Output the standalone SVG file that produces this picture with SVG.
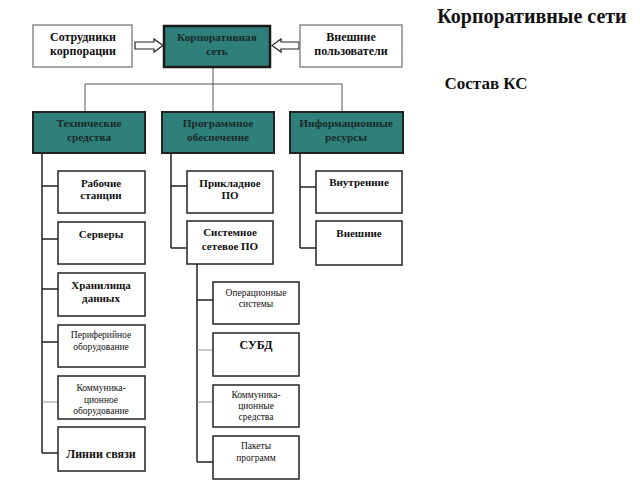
<svg xmlns="http://www.w3.org/2000/svg" width="640" height="480" viewBox="0 0 640 480">
<style>
text{font-family:"Liberation Serif","Times New Roman",serif;fill:#111;text-anchor:middle}
.b{font-family:"Liberation Serif","Times New Roman",serif;font-weight:bold;font-size:11px}
.bt{font-family:"Liberation Serif","Times New Roman",serif;font-weight:bold;font-size:12px}
.r{font-family:"Liberation Serif","Times New Roman",serif;font-size:9.5px}
.t{font-family:"Liberation Serif","Times New Roman",serif;font-weight:bold;font-size:11.3px;fill:#1a2a2a}
.wb{fill:#fff;stroke:#8a8a8a;stroke-width:1.5}
.teal{fill:#2f7f7b;stroke:#1a1a1a;stroke-width:2.5}
.tl{fill:#2f7f7b;stroke:#222;stroke-width:2}
.nb{fill:#fff;stroke:#222;stroke-width:1.5}
.c{fill:none;stroke:#222;stroke-width:1.5}
.cg{fill:none;stroke:#999;stroke-width:1}
.ar{fill:#fff;stroke:#222;stroke-width:1.2}
</style>
<rect width="640" height="480" fill="#fff"/>
<g id="connectors">
<path class="c" d="M213 67V84M85 84H342M85 84V112M213 84V112M342 84V112" style="stroke:#555;stroke-width:1"/>
<path class="c" d="M42 153V453M42 186H58M42 239H58M42 289H58M42 342H58M42 453H58"/>
<path class="cg" d="M42 402H58"/>
<path class="c" d="M171 153V248M171 186H187M171 248H187"/>
<path class="c" d="M300 153V248M300 187H316M300 248H316"/>
<path class="c" d="M197 264V462M197 300H213M197 462H213"/>
<path class="cg" d="M197 350H213M197 402H213"/>
<path class="ar" d="M135 42H154V39L163 45.5L154 52V49H135Z"/>
<path class="ar" d="M299 42H281V39L272 45.5L281 52V49H299Z"/>
</g>
<g id="title"><text x="532" y="23" style="font-size:20px;font-weight:bold">Корпоративные сети</text></g>
<g id="subtitle"><text x="486" y="89" style="font-size:17px;font-weight:bold">Состав КС</text></g>
<g id="n-sotr"><rect class="wb" x="33" y="25" width="99" height="42"/><text class="bt" x="83" y="41">Сотрудники</text><text class="bt" x="83" y="55">корпорации</text></g>
<g id="n-korp"><rect class="teal" x="164" y="26" width="106" height="41"/><text class="t" x="217" y="41">Корпоративная</text><text class="t" x="217" y="55">сеть</text></g>
<g id="n-vnesh"><rect class="wb" x="300" y="25" width="102" height="42"/><text class="bt" x="351" y="41">Внешние</text><text class="bt" x="351" y="55">пользователи</text></g>
<g id="n-tech"><rect class="tl" x="33" y="112" width="112" height="41"/><text class="t" x="89" y="127">Технические</text><text class="t" x="89" y="141">средства</text></g>
<g id="n-prog"><rect class="tl" x="162" y="112" width="112" height="41"/><text class="t" x="218" y="127">Программное</text><text class="t" x="218" y="141">обеспечение</text></g>
<g id="n-info"><rect class="tl" x="290" y="112" width="113" height="41"/><text class="t" x="346" y="127">Информационные</text><text class="t" x="346" y="141">ресурсы</text></g>
<g id="n-rab"><rect class="nb" x="58" y="171" width="87" height="42"/><text class="b" x="101" y="187">Рабочие</text><text class="b" x="101" y="199">станции</text></g>
<g id="n-serv"><rect class="nb" x="58" y="222" width="87" height="42"/><text class="b" x="101" y="238">Серверы</text></g>
<g id="n-hran"><rect class="nb" x="58" y="273" width="87" height="43"/><text class="b" x="101" y="289">Хранилища</text><text class="b" x="101" y="302">данных</text></g>
<g id="n-perif"><rect class="nb" x="58" y="325" width="87" height="42"/><text class="r" x="101" y="338">Периферийное</text><text class="r" x="101" y="350">оборудование</text></g>
<g id="n-komob"><rect class="nb" x="58" y="376" width="87" height="43"/><text class="r" x="101" y="391">Коммуника-</text><text class="r" x="101" y="403">ционное</text><text class="r" x="101" y="414">оборудование</text></g>
<g id="n-lin"><rect class="nb" x="58" y="427" width="87" height="44"/><text class="b" x="101" y="458" style="font-size:12px">Линии связи</text></g>
<g id="n-prikl"><rect class="nb" x="187" y="171" width="86" height="42"/><text class="b" x="230" y="187">Прикладное</text><text class="b" x="230" y="199">ПО</text></g>
<g id="n-sist"><rect class="nb" x="187" y="221" width="86" height="43"/><text class="b" x="230" y="236">Системное</text><text class="b" x="230" y="250">сетевое ПО</text></g>
<g id="n-oper"><rect class="nb" x="213" y="282" width="86" height="42"/><text class="r" x="256" y="296">Операционные</text><text class="r" x="256" y="307">системы</text></g>
<g id="n-subd"><rect class="nb" x="213" y="333" width="86" height="43"/><text class="b" x="256" y="349" style="font-size:12px">СУБД</text></g>
<g id="n-komsr"><rect class="nb" x="213" y="385" width="86" height="42"/><text class="r" x="256" y="398">Коммуника-</text><text class="r" x="256" y="409">ционные</text><text class="r" x="256" y="420">средства</text></g>
<g id="n-pak"><rect class="nb" x="213" y="436" width="86" height="43"/><text class="r" x="256" y="449">Пакеты</text><text class="r" x="256" y="461">программ</text></g>
<g id="n-vnutr"><rect class="nb" x="316" y="171" width="86" height="42"/><text class="b" x="359" y="186">Внутренние</text></g>
<g id="n-vneshn"><rect class="nb" x="316" y="221" width="86" height="44"/><text class="b" x="359" y="237">Внешние</text></g>
</svg>
